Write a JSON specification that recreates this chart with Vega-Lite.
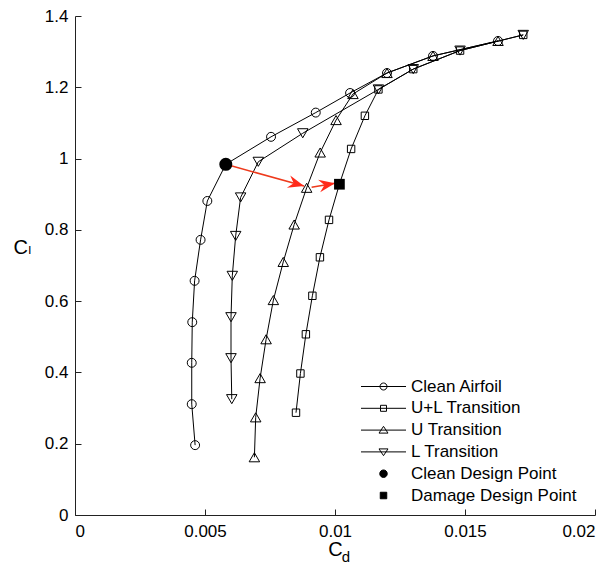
{
  "$schema": "https://vega.github.io/schema/vega-lite/v6.json",
  "width": 520,
  "height": 499,
  "autosize": {"type": "none"},
  "padding": {"left": 75, "top": 16, "right": 20, "bottom": 50},
  "config": {
    "view": {"stroke": null},
    "font": "Liberation Sans",
    "axis": {
      "grid": false,
      "domainColor": "#222222",
      "domainWidth": 1,
      "tickColor": "#222222",
      "tickWidth": 1,
      "tickSize": -6,
      "labelFont": "Liberation Sans",
      "labelFontSize": 17,
      "labelColor": "black",
      "titleFont": "Liberation Sans, DejaVu Sans",
      "titleFontSize": 20,
      "titleFontWeight": "normal",
      "titleColor": "black"
    },
    "legend": {
      "orient": "none",
      "legendX": 300,
      "legendY": 362,
      "padding": 0,
      "labelFont": "Liberation Sans",
      "labelFontSize": 17,
      "labelColor": "black",
      "labelOffset": 19,
      "labelLimit": 300,
      "rowPadding": 3.8,
      "symbolSize": 100,
      "symbolStrokeWidth": 1,
      "symbolStrokeColor": "black",
      "symbolOpacity": 1
    }
  },
  "title": {
    "text": "d",
    "orient": "bottom",
    "anchor": "middle",
    "font": "Liberation Sans",
    "fontSize": 15,
    "fontWeight": "normal",
    "color": "black",
    "dx": 11,
    "dy": -13
  },
  "datasets": {
    "polar": [
      {"series": "Clean Airfoil", "i": 1, "cd": 0.00462, "cl": 0.196},
      {"series": "Clean Airfoil", "i": 2, "cd": 0.00449, "cl": 0.311},
      {"series": "Clean Airfoil", "i": 3, "cd": 0.00449, "cl": 0.427},
      {"series": "Clean Airfoil", "i": 4, "cd": 0.00451, "cl": 0.541},
      {"series": "Clean Airfoil", "i": 5, "cd": 0.0046, "cl": 0.657},
      {"series": "Clean Airfoil", "i": 6, "cd": 0.00483, "cl": 0.772},
      {"series": "Clean Airfoil", "i": 7, "cd": 0.00509, "cl": 0.881},
      {"series": "Clean Airfoil", "i": 8, "cd": 0.0058, "cl": 0.984},
      {"series": "Clean Airfoil", "i": 9, "cd": 0.00754, "cl": 1.061},
      {"series": "Clean Airfoil", "i": 10, "cd": 0.00926, "cl": 1.129},
      {"series": "Clean Airfoil", "i": 11, "cd": 0.01058, "cl": 1.184},
      {"series": "Clean Airfoil", "i": 12, "cd": 0.012, "cl": 1.24},
      {"series": "Clean Airfoil", "i": 13, "cd": 0.01377, "cl": 1.288},
      {"series": "Clean Airfoil", "i": 14, "cd": 0.01627, "cl": 1.33},

      {"series": "U+L Transition", "i": 1, "cd": 0.0085, "cl": 0.287},
      {"series": "U+L Transition", "i": 2, "cd": 0.00867, "cl": 0.397},
      {"series": "U+L Transition", "i": 3, "cd": 0.00888, "cl": 0.507},
      {"series": "U+L Transition", "i": 4, "cd": 0.00913, "cl": 0.615},
      {"series": "U+L Transition", "i": 5, "cd": 0.00942, "cl": 0.723},
      {"series": "U+L Transition", "i": 6, "cd": 0.00977, "cl": 0.828},
      {"series": "U+L Transition", "i": 7, "cd": 0.01017, "cl": 0.928},
      {"series": "U+L Transition", "i": 8, "cd": 0.01062, "cl": 1.027},
      {"series": "U+L Transition", "i": 9, "cd": 0.01115, "cl": 1.12},
      {"series": "U+L Transition", "i": 10, "cd": 0.01167, "cl": 1.194},
      {"series": "U+L Transition", "i": 11, "cd": 0.01301, "cl": 1.251},
      {"series": "U+L Transition", "i": 12, "cd": 0.01481, "cl": 1.303},
      {"series": "U+L Transition", "i": 13, "cd": 0.01724, "cl": 1.347},

      {"series": "U Transition", "i": 1, "cd": 0.0069, "cl": 0.162},
      {"series": "U Transition", "i": 2, "cd": 0.00695, "cl": 0.274},
      {"series": "U Transition", "i": 3, "cd": 0.00712, "cl": 0.384},
      {"series": "U Transition", "i": 4, "cd": 0.00735, "cl": 0.493},
      {"series": "U Transition", "i": 5, "cd": 0.00763, "cl": 0.603},
      {"series": "U Transition", "i": 6, "cd": 0.00801, "cl": 0.71},
      {"series": "U Transition", "i": 7, "cd": 0.00843, "cl": 0.815},
      {"series": "U Transition", "i": 8, "cd": 0.00891, "cl": 0.918},
      {"series": "U Transition", "i": 9, "cd": 0.00943, "cl": 1.017},
      {"series": "U Transition", "i": 10, "cd": 0.01004, "cl": 1.108},
      {"series": "U Transition", "i": 11, "cd": 0.01069, "cl": 1.181},
      {"series": "U Transition", "i": 12, "cd": 0.012, "cl": 1.24},
      {"series": "U Transition", "i": 13, "cd": 0.01377, "cl": 1.288},
      {"series": "U Transition", "i": 14, "cd": 0.01627, "cl": 1.33},

      {"series": "L Transition", "i": 1, "cd": 0.00603, "cl": 0.325},
      {"series": "L Transition", "i": 2, "cd": 0.006, "cl": 0.44},
      {"series": "L Transition", "i": 3, "cd": 0.006, "cl": 0.555},
      {"series": "L Transition", "i": 4, "cd": 0.00605, "cl": 0.671},
      {"series": "L Transition", "i": 5, "cd": 0.00618, "cl": 0.783},
      {"series": "L Transition", "i": 6, "cd": 0.00637, "cl": 0.891},
      {"series": "L Transition", "i": 7, "cd": 0.00705, "cl": 0.991},
      {"series": "L Transition", "i": 8, "cd": 0.00876, "cl": 1.071},
      {"series": "L Transition", "i": 9, "cd": 0.01167, "cl": 1.194},
      {"series": "L Transition", "i": 10, "cd": 0.01301, "cl": 1.251},
      {"series": "L Transition", "i": 11, "cd": 0.01481, "cl": 1.303},
      {"series": "L Transition", "i": 12, "cd": 0.01724, "cl": 1.347}
    ],
    "design": [
      {"series": "Clean Design Point", "cd": 0.0058, "cl": 0.984},
      {"series": "Damage Design Point", "cd": 0.01017, "cl": 0.928}
    ],
    "arrows": [
      {"arrow": "clean-to-u", "cd": 0.0058, "cl": 0.984, "cd2": 0.00881, "cl2": 0.923},
      {"arrow": "u-to-damage", "cd": 0.0091, "cl": 0.9195, "cd2": 0.01, "cl2": 0.9307}
    ]
  },
  "layer": [
    {
      "data": {"name": "polar"},
      "mark": {"type": "line", "color": "black", "strokeWidth": 1},
      "encoding": {
        "x": {
          "field": "cd",
          "type": "quantitative",
          "scale": {"domain": [0, 0.02], "nice": false, "zero": false},
          "axis": {
            "values": [0, 0.005, 0.01, 0.015, 0.02],
            "format": "~g",
            "labelPadding": 14,
            "title": "C",
            "titlePadding": 0
          }
        },
        "y": {
          "field": "cl",
          "type": "quantitative",
          "scale": {"domain": [0, 1.4], "nice": false, "zero": false},
          "axis": {
            "values": [0, 0.2, 0.4, 0.6, 0.8, 1, 1.2, 1.4],
            "format": "~g",
            "labelPadding": 13,
            "title": "C\u2097",
            "titleAngle": 0,
            "titleAlign": "left",
            "titleBaseline": "alphabetic",
            "titleX": -62,
            "titleY": 237
          }
        },
        "detail": {"field": "series"},
        "order": {"field": "i", "type": "quantitative"}
      }
    },
    {
      "data": {"name": "polar"},
      "transform": [{"filter": "datum.series === 'Clean Airfoil'"}],
      "mark": {"type": "point", "shape": "circle", "filled": false, "stroke": "black", "strokeWidth": 1, "opacity": 1, "size": 80},
      "encoding": {
        "x": {"field": "cd", "type": "quantitative"},
        "y": {"field": "cl", "type": "quantitative"}
      }
    },
    {
      "data": {"name": "polar"},
      "transform": [{"filter": "datum.series === 'U+L Transition'"}],
      "mark": {"type": "point", "shape": "square", "filled": false, "stroke": "black", "strokeWidth": 1, "opacity": 1, "size": 55},
      "encoding": {
        "x": {"field": "cd", "type": "quantitative"},
        "y": {"field": "cl", "type": "quantitative"}
      }
    },
    {
      "data": {"name": "polar"},
      "transform": [{"filter": "datum.series === 'U Transition'"}],
      "mark": {"type": "point", "shape": "triangle-up", "filled": false, "stroke": "black", "strokeWidth": 1, "opacity": 1, "size": 110},
      "encoding": {
        "x": {"field": "cd", "type": "quantitative"},
        "y": {"field": "cl", "type": "quantitative"}
      }
    },
    {
      "data": {"name": "polar"},
      "transform": [{"filter": "datum.series === 'L Transition'"}],
      "mark": {"type": "point", "shape": "triangle-down", "filled": false, "stroke": "black", "strokeWidth": 1, "opacity": 1, "size": 110},
      "encoding": {
        "x": {"field": "cd", "type": "quantitative"},
        "y": {"field": "cl", "type": "quantitative"}
      }
    },
    {
      "data": {"name": "arrows"},
      "mark": {"type": "rule", "color": "#ee3a1c", "strokeWidth": 1.5},
      "encoding": {
        "x": {"field": "cd", "type": "quantitative"},
        "y": {"field": "cl", "type": "quantitative"},
        "x2": {"field": "cd2"},
        "y2": {"field": "cl2"}
      }
    },
    {
      "data": {"name": "arrows"},
      "transform": [{"filter": "datum.arrow === 'clean-to-u'"}],
      "mark": {"type": "point", "shape": "M0,0L-2.4,-0.95L-1.6,0L-2.4,0.95Z", "filled": true, "color": "#ff2a1a", "opacity": 1, "size": 180, "angle": 15.5},
      "encoding": {
        "x": {"field": "cd2", "type": "quantitative"},
        "y": {"field": "cl2", "type": "quantitative"}
      }
    },
    {
      "data": {"name": "arrows"},
      "transform": [{"filter": "datum.arrow === 'u-to-damage'"}],
      "mark": {"type": "point", "shape": "M0,0L-2.4,-0.95L-1.6,0L-2.4,0.95Z", "filled": true, "color": "#ff2a1a", "opacity": 1, "size": 180, "angle": 350.3},
      "encoding": {
        "x": {"field": "cd2", "type": "quantitative"},
        "y": {"field": "cl2", "type": "quantitative"}
      }
    },
    {
      "data": {"name": "design"},
      "transform": [{"filter": "datum.series === 'Clean Design Point'"}],
      "mark": {"type": "point", "shape": "circle", "filled": true, "color": "black", "opacity": 1, "size": 170},
      "encoding": {
        "x": {"field": "cd", "type": "quantitative"},
        "y": {"field": "cl", "type": "quantitative"}
      }
    },
    {
      "data": {"name": "design"},
      "transform": [{"filter": "datum.series === 'Damage Design Point'"}],
      "mark": {"type": "point", "shape": "square", "filled": true, "color": "black", "opacity": 1, "size": 115},
      "encoding": {
        "x": {"field": "cd", "type": "quantitative"},
        "y": {"field": "cl", "type": "quantitative"}
      }
    },
    {
      "data": {"name": "design"},
      "transform": [{"filter": "false"}],
      "mark": {"type": "point", "filled": false, "strokeWidth": 1, "opacity": 1},
      "encoding": {
        "x": {"field": "cd", "type": "quantitative"},
        "y": {"field": "cl", "type": "quantitative"},
        "shape": {
          "field": "series",
          "type": "nominal",
          "scale": {
            "domain": ["Clean Airfoil", "U+L Transition", "U Transition", "L Transition", "Clean Design Point", "Damage Design Point"],
            "range": [
              "M-4.5,0L4.5,0M0.7,0A0.7,0.7 0 1,1 -0.7,0A0.7,0.7 0 1,1 0.7,0",
              "M-4.5,0L4.5,0M-0.6,-0.6L0.6,-0.6L0.6,0.6L-0.6,0.6Z",
              "M-4.5,0L4.5,0M0,-0.75L0.9,0.6L-0.9,0.6Z",
              "M-4.5,0L4.5,0M0,0.75L0.9,-0.6L-0.9,-0.6Z",
              "M0.75,0A0.75,0.75 0 1,1 -0.75,0A0.75,0.75 0 1,1 0.75,0",
              "M-0.65,-0.65L0.65,-0.65L0.65,0.65L-0.65,0.65Z"
            ]
          },
          "legend": {"title": null}
        },
        "fill": {
          "field": "series",
          "type": "nominal",
          "scale": {
            "domain": ["Clean Airfoil", "U+L Transition", "U Transition", "L Transition", "Clean Design Point", "Damage Design Point"],
            "range": ["transparent", "transparent", "transparent", "transparent", "black", "black"]
          },
          "legend": {"title": null}
        },
        "stroke": {
          "field": "series",
          "type": "nominal",
          "scale": {
            "domain": ["Clean Airfoil", "U+L Transition", "U Transition", "L Transition", "Clean Design Point", "Damage Design Point"],
            "range": ["black", "black", "black", "black", "black", "black"]
          },
          "legend": {"title": null}
        }
      }
    }
  ]
}
